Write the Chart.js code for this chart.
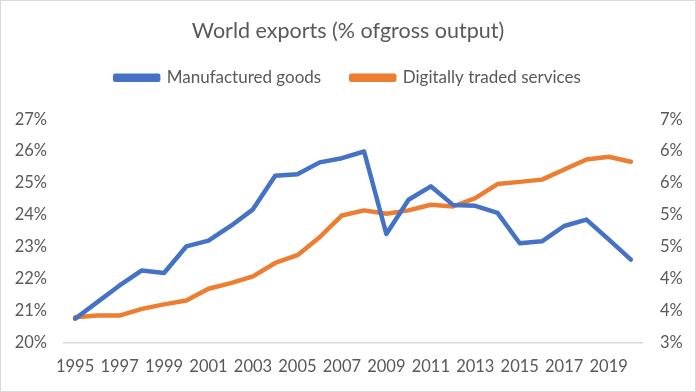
<!DOCTYPE html>
<html>
<head>
<meta charset="utf-8">
<script src="https://cdn.jsdelivr.net/npm/chart.js@4"></script>
<style>
  html, body { margin: 0; padding: 0; background: #fff; }
  #wrap { position: relative; width: 696px; height: 392px; }
</style>
</head>
<body>
<div id="wrap"><canvas id="c" width="696" height="392"></canvas></div>
<script>
const years = ['1995','1996','1997','1998','1999','2000','2001','2002','2003','2004','2005','2006','2007','2008','2009','2010','2011','2012','2013','2014','2015','2016','2017','2018','2019','2020'];
const manufacturedGoods = [20.76,21.28,21.80,22.27,22.19,23.02,23.20,23.66,24.18,25.23,25.28,25.65,25.78,25.99,23.41,24.48,24.90,24.32,24.29,24.07,23.12,23.18,23.66,23.86,23.24,22.61];
const digitalServices = [3.46,3.49,3.49,3.61,3.69,3.76,3.97,4.07,4.19,4.43,4.57,4.89,5.28,5.37,5.31,5.37,5.47,5.44,5.59,5.84,5.88,5.92,6.10,6.28,6.33,6.24];
const leftTicks = [20,21,22,23,24,25,26,27];
const rightMin = 3, rightMax = 7, rightSteps = 7;
const titleText = 'World exports (% ofgross output)';
const seriesNames = ['Manufactured goods', 'Digitally traded services'];

const FONT = 'Lato, "Open Sans", sans-serif';
const GREY = '#595959';

const borderPlugin = {
  id: 'frame',
  afterDraw(chart) {
    const ctx = chart.ctx;
    ctx.save();
    ctx.strokeStyle = '#d9d9d9';
    ctx.lineWidth = 1;
    ctx.strokeRect(0.5, 0.5, chart.width - 1, chart.height - 1);
    ctx.restore();
  }
};

new Chart(document.getElementById('c'), {
  type: 'line',
  data: {
    labels: years,
    datasets: [
      {
        label: seriesNames[0],
        data: manufacturedGoods,
        yAxisID: 'y',
        borderColor: '#4472C4',
        backgroundColor: '#4472C4',
        borderWidth: 4.5,
        pointRadius: 0,
        tension: 0,
        borderJoinStyle: 'round',
        borderCapStyle: 'round'
      },
      {
        label: seriesNames[1],
        data: digitalServices,
        yAxisID: 'y1',
        borderColor: '#ED7D31',
        backgroundColor: '#ED7D31',
        borderWidth: 4.5,
        pointRadius: 0,
        tension: 0,
        borderJoinStyle: 'round',
        borderCapStyle: 'round'
      }
    ]
  },
  options: {
    responsive: false,
    animation: false,
    devicePixelRatio: 1,
    layout: { padding: { left: 0, right: 0, top: 18.5, bottom: 0 } },
    plugins: {
      title: {
        display: true,
        text: titleText,
        color: GREY,
        font: { family: FONT, size: 21.5, weight: 'normal' },
        padding: { top: 0, bottom: -5.1 }
      },
      subtitle: {
        display: true,
        text: '',
        weight: 500,
        font: { family: FONT, size: 10 },
        padding: { top: 0, bottom: 11 }
      },
      legend: {
        display: true,
        position: 'top',
        labels: {
          color: GREY,
          font: { family: FONT, size: 17 },
          boxWidth: 43,
          boxHeight: 4,
          padding: 30
        }
      },
      tooltip: { enabled: false }
    },
    scales: {
      x: {
        offset: true,
        grid: { display: false, drawTicks: false },
        border: { display: true, color: '#d9d9d9', width: 1.5 },
        ticks: {
          color: GREY,
          font: { family: FONT, size: 16.5 },
          autoSkip: false,
          maxRotation: 0,
          padding: 14,
          callback: function(v, i) { return i % 2 === 0 ? this.getLabelForValue(v) : ''; }
        },
        afterFit(s) { s.height = 49; }
      },
      y: {
        position: 'left',
        min: leftTicks[0],
        max: leftTicks[leftTicks.length - 1],
        grid: { display: false, drawTicks: false },
        border: { display: false },
        afterBuildTicks(s) { s.ticks = leftTicks.map(v => ({ value: v })); },
        ticks: {
          color: GREY,
          font: { family: FONT, size: 16.5 },
          padding: 17,
          callback: v => Math.round(v) + '%'
        },
        afterFit(s) { s.width = 64; }
      },
      y1: {
        position: 'right',
        min: rightMin,
        max: rightMax,
        grid: { display: false, drawTicks: false },
        border: { display: false },
        afterBuildTicks(s) {
          const t = [];
          for (let i = 0; i <= rightSteps; i++) t.push({ value: rightMin + i * (rightMax - rightMin) / rightSteps });
          s.ticks = t;
        },
        ticks: {
          color: GREY,
          font: { family: FONT, size: 16.5 },
          padding: 18,
          callback: v => Math.round(v) + '%'
        },
        afterFit(s) { s.width = 54; }
      }
    }
  },
  plugins: [borderPlugin]
});
</script>
</body>
</html>
